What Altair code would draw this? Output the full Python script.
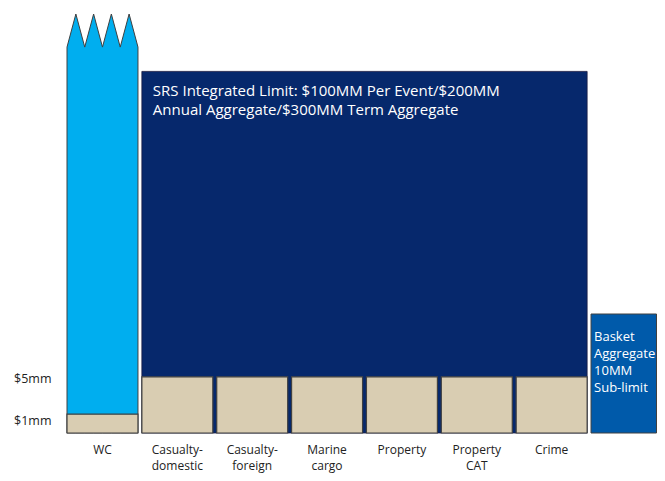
import json
import altair as alt
import pandas as pd

# ---------------- data ----------------
categories = ["WC", "Casualty-|domestic", "Casualty-|foreign", "Marine|cargo",
              "Property", "Property|CAT", "Crime", "Basket"]
# layer heights in schematic units (0-100 scale)
retention_heights = [4.5, 13.4, 13.4, 13.4, 13.4, 13.4, 13.4]   # WC $1mm, others $5mm
basket_height = 28.4
integrated_top = 86.3
wc_shoulder = 92.1
wc_peak = 100.0
wc_teeth = 4
y_tick_values = [3.1, 13.1]
y_tick_labels = ["$1mm", "$5mm"]
integrated_text = ["SRS Integrated Limit: $100MM Per Event/$200MM",
                   "Annual Aggregate/$300MM Term Aggregate"]
basket_text = ["Basket", "Aggregate", "10MM", "Sub-limit"]

# ---------------- style ----------------
CYAN = "#00AEEF"
NAVY = "#06286C"
BASKET = "#005AAA"
TAN = "#D9CDB2"
EDGE = "#404040"
FONT = "Open Sans"
PAD_INNER = 0.052
FULL_W = 595          # width spanned by the eight slots
PLOT_W, PLOT_H = 590, 419   # drawable plot area (page width limit)

n = len(categories)
bw = 1 - PAD_INNER
slot_max = n - PAD_INNER
slot_domain = [0, slot_max]

# tables
wc_shape = pd.DataFrame({
    "x": [k * bw / (2 * wc_teeth) for k in range(2 * wc_teeth + 1)],
    "y": [wc_shoulder if k % 2 == 0 else wc_peak for k in range(2 * wc_teeth + 1)],
})
navy = pd.DataFrame({
    "x0": [categories.index("Casualty-|domestic")],
    "x1": [categories.index("Crime") + bw],
    "y0": [0], "y1": [integrated_top],
})
tan_boxes = pd.DataFrame({
    "cat": categories[:len(retention_heights)],
    "y0": [0] * len(retention_heights),
    "y1": retention_heights,
})
basket = pd.DataFrame({
    "x0": [categories.index("Basket")],
    "x1": [slot_max * (PLOT_W - 0.5) / FULL_W],
    "y0": [0], "y1": [basket_height],
})
navy_lbl = pd.DataFrame({"x": [categories.index("Casualty-|domestic")], "y": [integrated_top]})
basket_lbl = pd.DataFrame({"x": [categories.index("Basket")], "y": [basket_height]})

y_label_expr = f"{json.dumps(y_tick_labels)}[indexof({json.dumps(y_tick_values)}, datum.value)]"
y_axis = alt.Axis(values=y_tick_values, labelExpr=y_label_expr, title=None, domain=False,
                  ticks=False, grid=False, labelPadding=16, labelFontSize=12.5,
                  labelFont=FONT, labelColor="#222222", labelFontWeight="normal")
y_scale = alt.Scale(domain=[0, 100], nice=False, zero=True)


def xq(field):
    return alt.X(f"{field}:Q",
                 scale=alt.Scale(domain=slot_domain, range=[0, FULL_W], nice=False, zero=False),
                 axis=None)


def yq(field):
    return alt.Y(f"{field}:Q", scale=y_scale, axis=y_axis)


wc_area = alt.Chart(wc_shape).mark_area(
    fill=CYAN, stroke=EDGE, strokeWidth=1, interpolate="linear"
).encode(x=xq("x"), y=yq("y"), y2=alt.Y2(datum=0))

navy_rect = alt.Chart(navy).mark_rect(fill=NAVY, stroke="#1a1a40", strokeWidth=0.8).encode(
    x=xq("x0"), x2="x1", y=yq("y0"), y2="y1"
)

basket_rect = alt.Chart(basket).mark_rect(fill=BASKET, stroke=EDGE, strokeWidth=1).encode(
    x=xq("x0"), x2="x1", y=yq("y0"), y2="y1"
)

tan_bars = alt.Chart(tan_boxes).mark_bar(fill=TAN, stroke=EDGE, strokeWidth=1.2).encode(
    x=alt.X("cat:N", sort=categories,
            scale=alt.Scale(domain=categories, range=[0, FULL_W],
                            paddingInner=PAD_INNER, paddingOuter=0),
            axis=alt.Axis(title=None, labelAngle=0, domain=False, ticks=False, labelPadding=11,
                          labelExpr="datum.label == 'Basket' ? '' : split(datum.label, '|')",
                          labelFontSize=12, labelLineHeight=16, labelFont=FONT,
                          labelColor="#222222", labelOverlap=False)),
    y=yq("y0"), y2="y1",
)

navy_text = alt.Chart(navy_lbl).mark_text(
    text=integrated_text, align="left", baseline="top", dx=11, dy=13,
    fontSize=15, lineHeight=19, font=FONT, color="white"
).encode(x=xq("x"), y=yq("y"))

basket_txt = alt.Chart(basket_lbl).mark_text(
    text=basket_text, align="left", baseline="top", dx=3, dy=17,
    fontSize=13, lineHeight=17, font=FONT, color="white"
).encode(x=xq("x"), y=yq("y"))

chart = alt.layer(wc_area, navy_rect, basket_rect, tan_bars, navy_text, basket_txt).resolve_scale(
    x="independent"
).properties(
    width=PLOT_W, height=PLOT_H,
    padding={"left": 59, "top": 6, "right": 0, "bottom": 40},
    autosize=alt.AutoSizeParams(type="none"),
    background="white",
).configure_view(stroke=None)

chart.save("out.html", embed_options={"renderer": "svg", "actions": False})
